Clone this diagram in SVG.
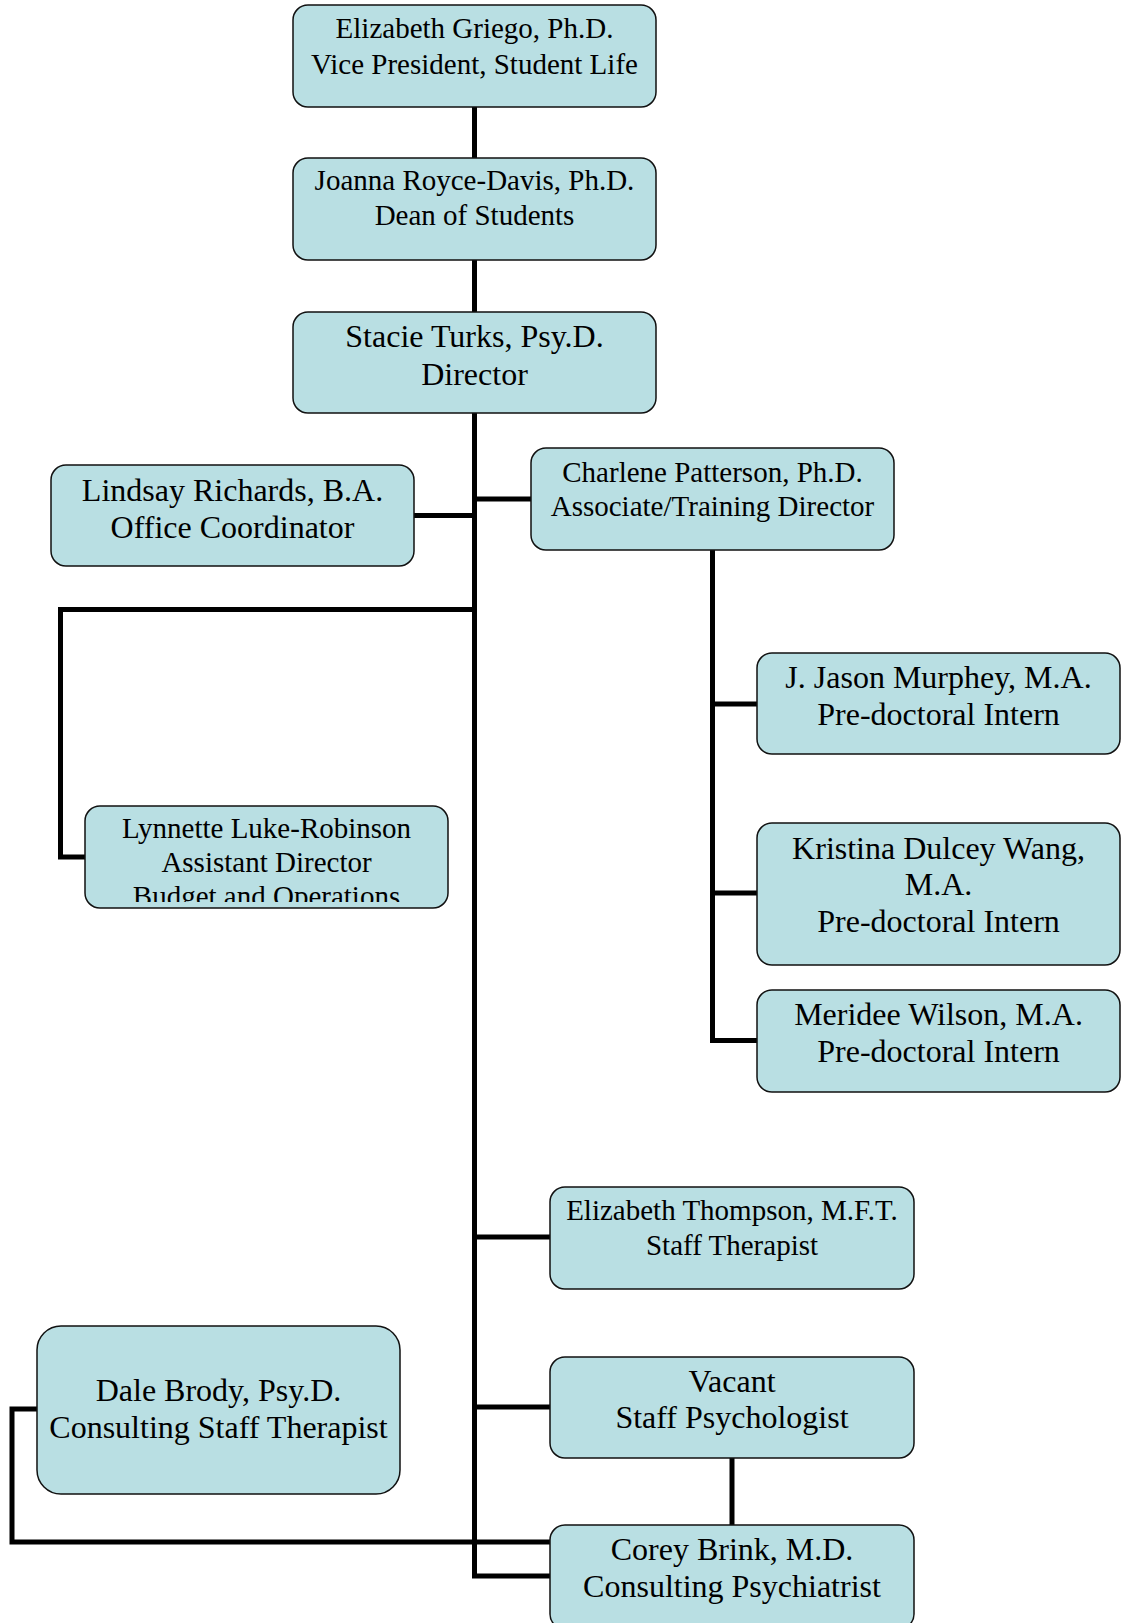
<svg xmlns="http://www.w3.org/2000/svg" width="1122" height="1623" viewBox="0 0 1122 1623">
  <style>
    .box { fill: #B9DFE3; stroke: #111; stroke-width: 1.5; }
    .t { font-family: "Liberation Serif", "Times New Roman", serif; fill: #000; text-anchor: middle; }
    .s { font-size: 29px; }
    .l { font-size: 32px; }
    .c { fill: none; stroke: #000; stroke-width: 5; stroke-linejoin: miter; stroke-linecap: butt; }
  </style>
  <defs>
    <clipPath id="clipLynnette">
      <rect x="85" y="806" width="363" height="96"/>
    </clipPath>
  </defs>
  <rect width="1122" height="1623" fill="#fff"/>

  <g id="connectors">
    <path class="c" d="M474.5 107 V158"/>
    <path class="c" d="M474.5 260 V312"/>
    <path class="c" d="M474.5 413 V1576 H550"/>
    <path class="c" d="M414 515.5 H474.5"/>
    <path class="c" d="M474.5 499 H531"/>
    <path class="c" d="M474.5 609.5 H60.5 V857 H85"/>
    <path class="c" d="M712.5 550 V1040.5 H757"/>
    <path class="c" d="M712.5 704 H757"/>
    <path class="c" d="M712.5 893 H757"/>
    <path class="c" d="M474.5 1237 H550"/>
    <path class="c" d="M474.5 1407 H550"/>
    <path class="c" d="M732 1458 V1525"/>
    <path class="c" d="M37 1409 H12 V1542 H550"/>
  </g>

  <g id="node-griego">
    <rect class="box" x="293" y="5" width="363" height="102" rx="15"/>
    <text class="t s" x="474.5" y="38">Elizabeth Griego, Ph.D.</text>
    <text class="t s" x="474.5" y="74">Vice President, Student Life</text>
  </g>
  <g id="node-royce-davis">
    <rect class="box" x="293" y="158" width="363" height="102" rx="15"/>
    <text class="t s" x="474.5" y="190">Joanna Royce-Davis, Ph.D.</text>
    <text class="t s" x="474.5" y="225">Dean of Students</text>
  </g>
  <g id="node-turks">
    <rect class="box" x="293" y="312" width="363" height="101" rx="15"/>
    <text class="t l" x="474.5" y="347">Stacie Turks, Psy.D.</text>
    <text class="t l" x="474.5" y="385">Director</text>
  </g>
  <g id="node-richards">
    <rect class="box" x="51" y="465" width="363" height="101" rx="15"/>
    <text class="t l" x="232.5" y="501">Lindsay Richards, B.A.</text>
    <text class="t l" x="232.5" y="538">Office Coordinator</text>
  </g>
  <g id="node-patterson">
    <rect class="box" x="531" y="448" width="363" height="102" rx="15"/>
    <text class="t s" x="712.5" y="482">Charlene Patterson, Ph.D.</text>
    <text class="t s" x="712.5" y="516">Associate/Training Director</text>
  </g>
  <g id="node-murphey">
    <rect class="box" x="757" y="653" width="363" height="101" rx="15"/>
    <text class="t l" x="938.5" y="688">J. Jason Murphey, M.A.</text>
    <text class="t l" x="938.5" y="725">Pre-doctoral Intern</text>
  </g>
  <g id="node-wang">
    <rect class="box" x="757" y="823" width="363" height="142" rx="15"/>
    <text class="t l" x="938.5" y="859">Kristina Dulcey Wang,</text>
    <text class="t l" x="938.5" y="895">M.A.</text>
    <text class="t l" x="938.5" y="932">Pre-doctoral Intern</text>
  </g>
  <g id="node-wilson">
    <rect class="box" x="757" y="990" width="363" height="102" rx="15"/>
    <text class="t l" x="938.5" y="1025">Meridee Wilson, M.A.</text>
    <text class="t l" x="938.5" y="1062">Pre-doctoral Intern</text>
  </g>
  <g id="node-luke-robinson">
    <rect class="box" x="85" y="806" width="363" height="102" rx="15"/>
    <g clip-path="url(#clipLynnette)">
      <text class="t s" x="266.5" y="838">Lynnette Luke-Robinson</text>
      <text class="t s" x="266.5" y="872">Assistant Director</text>
      <text class="t s" x="266.5" y="906">Budget and Operations</text>
    </g>
  </g>
  <g id="node-thompson">
    <rect class="box" x="550" y="1187" width="364" height="102" rx="15"/>
    <text class="t s" x="732" y="1220">Elizabeth Thompson, M.F.T.</text>
    <text class="t s" x="732" y="1255">Staff Therapist</text>
  </g>
  <g id="node-vacant">
    <rect class="box" x="550" y="1357" width="364" height="101" rx="15"/>
    <text class="t l" x="732" y="1392">Vacant</text>
    <text class="t l" x="732" y="1428">Staff Psychologist</text>
  </g>
  <g id="node-brink">
    <rect class="box" x="550" y="1525" width="364" height="104" rx="15"/>
    <text class="t l" x="732" y="1560">Corey Brink, M.D.</text>
    <text class="t l" x="732" y="1597">Consulting Psychiatrist</text>
  </g>
  <g id="node-brody">
    <rect class="box" x="37" y="1326" width="363" height="168" rx="24"/>
    <text class="t l" x="218.5" y="1401">Dale Brody, Psy.D.</text>
    <text class="t l" x="218.5" y="1438">Consulting Staff Therapist</text>
  </g>
</svg>
